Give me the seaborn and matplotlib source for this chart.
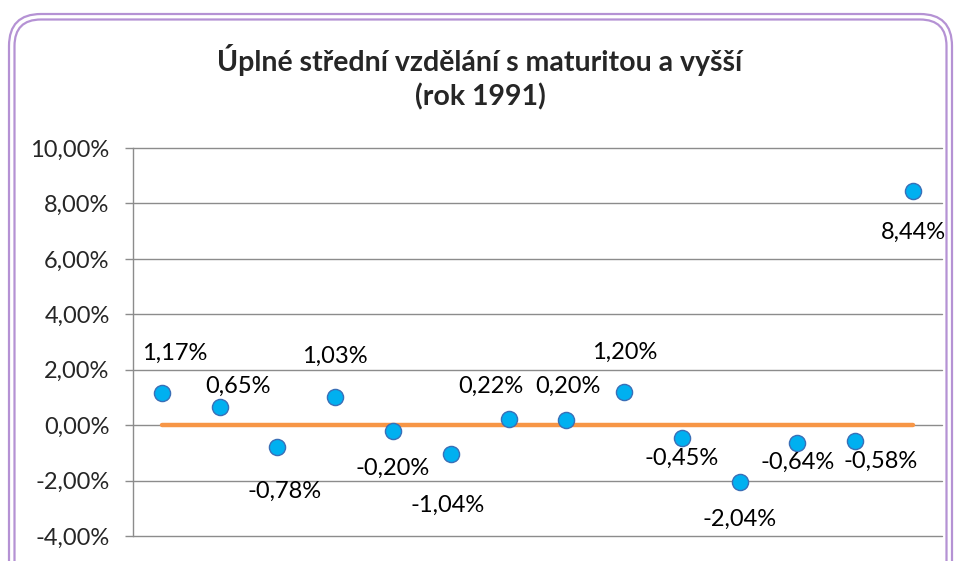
import matplotlib
matplotlib.use('Agg')
import matplotlib.pyplot as plt
import seaborn as sns
import pandas as pd
from matplotlib.patches import FancyBboxPatch
from matplotlib.ticker import FuncFormatter

# data
values = [1.17, 0.65, -0.78, 1.03, -0.20, -1.04, 0.22, 0.20, 1.20, -0.45, -2.04, -0.64, -0.58, 8.44]
baseline = [0.0] * len(values)
labels = ['1,17%', '0,65%', '-0,78%', '1,03%', '-0,20%', '-1,04%', '0,22%', '0,20%',
          '1,20%', '-0,45%', '-2,04%', '-0,64%', '-0,58%', '8,44%']
# posun popisků (pixely)
label_offsets = [(13, 39), (18, 21), (7, -45), (0, 40), (0, -38), (-3, -51), (-18, 33), (2, 33),
                 (1, 40), (0, -21), (0, -38), (0, -19), (25, -20), (0, -41)]

df = pd.DataFrame({'x': [i + 0.5 for i in range(len(values))], 'y': values, 'zero': baseline})

sns.set_theme(style='white')
plt.rcParams['font.family'] = ['Lato', 'DejaVu Sans']

fig = plt.figure(figsize=(9.6, 5.61), dpi=100)
ax = fig.add_axes([0.1385, 0.0446, 0.8427, 0.6916])

# oranžová čára na nule
sns.lineplot(data=df, x='x', y='zero', ax=ax, color='#F79646', linewidth=3.2, zorder=2)
# body
sns.scatterplot(data=df, x='x', y='y', ax=ax, s=135, color='#00B0F0',
                edgecolor='#3A6FB7', linewidth=1.0, zorder=3)

for i, (xv, yv) in enumerate(zip(df['x'], df['y'])):
    dx, dy = label_offsets[i]
    ax.annotate(labels[i], (xv, yv), xytext=(dx, dy), textcoords='offset pixels',
                ha='center', va='center', fontsize=17, color='black')

ax.set_xlim(0, 14)
ax.set_ylim(-4, 10)
ax.set_yticks([-4, -2, 0, 2, 4, 6, 8, 10])
ax.yaxis.set_major_formatter(FuncFormatter(lambda v, p: f'{v:.2f}%'.replace('.', ',')))
ax.set_xticks([])
ax.set_xlabel('')
ax.set_ylabel('')
ax.grid(axis='y', color='#8C8C8C', linewidth=1.0)
for gl in ax.get_ygridlines():
    gl.set_clip_on(False)
ax.set_axisbelow(True)
for s in ['top', 'right', 'bottom']:
    ax.spines[s].set_visible(False)
ax.spines['left'].set_color('#8C8C8C')
ax.spines['left'].set_linewidth(1.0)
ax.tick_params(axis='y', left=True, length=5.8, width=1, color='#8C8C8C', labelsize=17, pad=11)

fig.text(0.5, 0.893, 'Úplné střední vzdělání s maturitou a vyšší', ha='center', va='center',
         fontsize=20.5, fontweight='bold')
fig.text(0.5, 0.827, '(rok 1991)', ha='center', va='center', fontsize=20.5, fontweight='bold')

# rámeček (dvojitá čára)
for pad in [0, 5.5]:
    box = FancyBboxPatch((9 + pad, -60), 943 - 2 * pad, 607 - pad,
                         boxstyle='round,pad=0,rounding_size=%g' % (32 - pad),
                         transform=None, fill=False, edgecolor='#B592D4', linewidth=1.6)
    box.set_transform(fig.dpi_scale_trans.inverted() + fig.dpi_scale_trans)
    fig.patches.append(box)

fig.savefig('out.png', dpi=100)
